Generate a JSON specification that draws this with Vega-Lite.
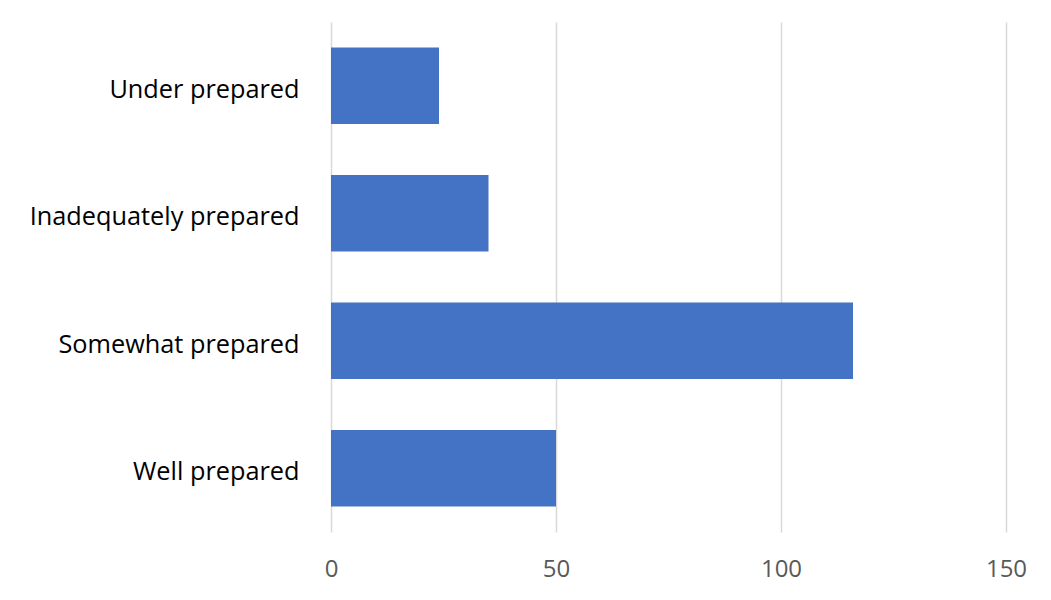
{
  "$schema": "https://vega.github.io/schema/vega-lite/v6.json",
  "width": 675,
  "height": 510,
  "autosize": {"type": "none"},
  "padding": {"left": 331, "top": 22, "right": 45, "bottom": 68},
  "background": "white",
  "config": {"view": {"stroke": null}, "font": "Open Sans"},
  "data": {
    "values": [
      {"level": "Under prepared", "count": 24},
      {"level": "Inadequately prepared", "count": 35},
      {"level": "Somewhat prepared", "count": 116},
      {"level": "Well prepared", "count": 50}
    ]
  },
  "mark": {"type": "bar", "color": "#4472C4"},
  "encoding": {
    "y": {
      "field": "level",
      "type": "nominal",
      "sort": null,
      "scale": {"paddingInner": 0.4, "paddingOuter": 0.2},
      "axis": {
        "title": null,
        "domain": false,
        "ticks": false,
        "labelPadding": 32,
        "labelOffset": 4,
        "labelFontSize": 25.3,
        "labelColor": "#000000",
        "labelFont": "Open Sans",
        "labelLimit": 400
      }
    },
    "x": {
      "field": "count",
      "type": "quantitative",
      "scale": {"domain": [0, 150], "nice": false},
      "axis": {
        "title": null,
        "values": [0, 50, 100, 150],
        "domain": false,
        "ticks": false,
        "grid": true,
        "gridColor": "#d9d9d9",
        "gridWidth": 1.5,
        "labelPadding": 25,
        "labelFontSize": 24,
        "labelColor": "#595959",
        "labelFont": "Open Sans",
        "labelFlush": false
      }
    }
  }
}
